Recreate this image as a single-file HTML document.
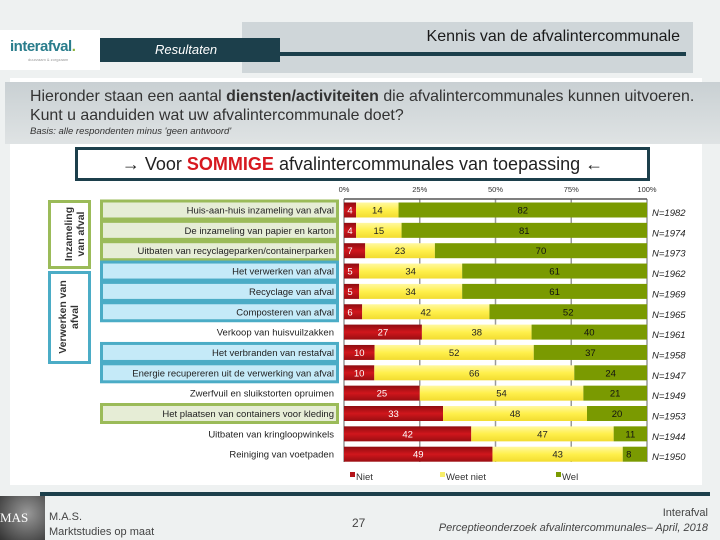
<!DOCTYPE html>
<html><head><meta charset="utf-8"><style>
body{margin:0;width:720px;height:540px;overflow:hidden;background:#eef1f1;font-family:"Liberation Sans",sans-serif;position:relative}
.abs{position:absolute}
</style></head><body>
<div class="abs" style="left:0;top:30px;width:100px;height:40px;background:#fff">
 <div style="position:absolute;left:10px;top:8px;font-size:15px;color:#2a7d8c;font-weight:bold;letter-spacing:-0.5px">interafval<span style="color:#8cb43c">.</span></div>
 <div style="position:absolute;left:28px;top:27px;font-size:4px;color:#999">duurzaam &amp; zorgzaam</div>
</div>
<div class="abs" style="left:242px;top:22px;width:451px;height:51px;background:#cfd6d9"></div>
<div class="abs" style="left:380px;top:28px;width:300px;text-align:right;font-size:16px;color:#1a1a1a">Kennis van de afvalintercommunale</div>
<div class="abs" style="left:280px;top:52px;width:406px;height:4px;background:#1c3f4b"></div>
<div class="abs" style="left:100px;top:38px;width:180px;height:24px;background:#1c3f4b;color:#fff;font-size:13px;font-style:italic;line-height:24px;text-indent:55px">Resultaten</div>
<div class="abs" style="left:10px;top:78px;width:692px;height:407px;background:#fff"></div>
<div class="abs" style="left:5px;top:82px;width:715px;height:62px;background:linear-gradient(#c9d0d3,#dfe3e4)"></div>
<div class="abs" style="left:30px;top:87px;font-size:15.9px;color:#333;line-height:19px">Hieronder staan een aantal <b>diensten/activiteiten</b> die afvalintercommunales kunnen uitvoeren.<br>Kunt u aanduiden wat uw afvalintercommunale doet?</div>
<div class="abs" style="left:30px;top:126px;font-size:9.5px;font-style:italic;color:#333">Basis: alle respondenten minus 'geen antwoord'</div>
<div class="abs" style="left:75px;top:147px;width:569px;height:28px;border:3px solid #1c3f4b;text-align:center;font-size:18px;line-height:28px;color:#222">→ Voor <b style="color:#d71920">SOMMIGE</b> afvalintercommunales van toepassing ←</div>

<svg class="abs" style="left:0;top:0" width="720" height="540">
 <rect x="49.5" y="201.5" width="40" height="66" fill="#fff" stroke="#9bbb59" stroke-width="3"/>
 <text transform="translate(72,234) rotate(-90)" text-anchor="middle" font-size="10.5" font-weight="bold" fill="#333" font-family="Liberation Sans">Inzameling</text>
 <text transform="translate(84,234) rotate(-90)" text-anchor="middle" font-size="10.5" font-weight="bold" fill="#333" font-family="Liberation Sans">van afval</text>
 <rect x="49.5" y="272.5" width="40" height="90" fill="#fff" stroke="#4bacc6" stroke-width="3"/>
 <text transform="translate(66,317) rotate(-90)" text-anchor="middle" font-size="10.5" font-weight="bold" fill="#333" font-family="Liberation Sans">Verwerken van</text>
 <text transform="translate(78,317) rotate(-90)" text-anchor="middle" font-size="10.5" font-weight="bold" fill="#333" font-family="Liberation Sans">afval</text>
 <g id="g"></g>
</svg>
<div class="abs" style="left:40px;top:492px;width:670px;height:4px;background:#1c3f4b"></div>
<div class="abs" style="left:0;top:496px;width:45px;height:44px;background:radial-gradient(circle at 60% 40%,#999,#333);color:#fff;font-family:'Liberation Serif',serif;font-size:13px;line-height:44px">MAS</div>
<div class="abs" style="left:49px;top:510px;font-size:11px;color:#444;line-height:15px">M.A.S.<br>Marktstudies op maat</div>
<div class="abs" style="left:352px;top:516px;font-size:12px;color:#444">27</div>
<div class="abs" style="right:12px;top:506px;font-size:11px;color:#444;line-height:15px;text-align:right">Interafval<br><i>Perceptieonderzoek afvalintercommunales– April, 2018</i></div>
<script>
const categories=["Huis-aan-huis inzameling van afval","De inzameling van papier en karton","Uitbaten van recyclageparken/containerparken","Het verwerken van afval","Recyclage van afval","Composteren van afval","Verkoop van huisvuilzakken","Het verbranden van restafval","Energie recupereren uit de verwerking van afval","Zwerfvuil en sluikstorten opruimen","Het plaatsen van containers voor kleding","Uitbaten van kringloopwinkels","Reiniging van voetpaden"];
const niet=[4,4,7,5,5,6,27,10,10,25,33,42,49];
const weetNiet=[14,15,23,34,34,42,38,52,66,54,48,47,43];
const wel=[82,81,70,61,61,52,40,37,24,21,20,11,8];
const nValues=[1982,1974,1973,1962,1969,1965,1961,1958,1947,1949,1953,1944,1950];
const boxType=["g","g","g","b","b","b","","b","b","","g","",""];
const ticks=["0%","25%","50%","75%","100%"];
const tickVals=[0,25,50,75,100];
const NS="http://www.w3.org/2000/svg";
const g=document.getElementById('g');
const X0=344,X1=647;
const xs=v=>X0+(X1-X0)*v/100;
const ys=i=>210+i*20.35;
function mk(t,a,p){const e=document.createElementNS(NS,t);for(const k in a)e.setAttribute(k,a[k]);(p||g).appendChild(e);return e;}
const defs=mk('defs',{});
defs.innerHTML='<linearGradient id="gr" x1="0" y1="0" x2="0" y2="1"><stop offset="0" stop-color="#8e0c10"/><stop offset="0.5" stop-color="#d0161c"/><stop offset="1" stop-color="#9a0e12"/></linearGradient><linearGradient id="gy" x1="0" y1="0" x2="0" y2="1"><stop offset="0" stop-color="#fff8a0"/><stop offset="0.5" stop-color="#fff04c"/><stop offset="1" stop-color="#f2dc30"/></linearGradient>';
categories.forEach((c,i)=>{
 const y=ys(i);
 if(boxType[i]){
  const r=mk('rect',{x:101.5,y:y-9,width:236,height:18,fill:boxType[i]=='g'?'#e6edd6':'#c5eaf8',stroke:boxType[i]=='g'?'#9bbb59':'#4bacc6','stroke-width':3});
  
  
 }
 const t=mk('text',{x:334,y:y+3.5,'text-anchor':'end','font-size':9.5,fill:'#222','font-family':'Liberation Sans'});
 t.textContent=c;
 
 
});
tickVals.forEach((v,k)=>{
 mk('line',{x1:xs(v),x2:xs(v),y1:199,y2:462,stroke:'#999','stroke-width':1.5});
 const t=mk('text',{x:xs(v),y:192,'text-anchor':'middle','font-size':7.5,fill:'#333','font-family':'Liberation Sans'});
 t.textContent=ticks[k];
 
 
});
mk('line',{x1:X0,x2:X1,y1:199,y2:199,stroke:'#555','stroke-width':1.5});
const series=[[niet,'url(#gr)','#fff'],[weetNiet,'url(#gy)','#222'],[wel,'#7a9a01','#111']];
categories.forEach((c,i)=>{
 let acc=0;const y=ys(i);
 const tot=niet[i]+weetNiet[i]+wel[i];
 series.forEach(([arr,fill,tc],s)=>{
  const v=arr[i]*100/tot;
  const r=mk('rect',{x:xs(acc),y:y-7.5,width:xs(acc+v)-xs(acc),height:15,fill:fill});
  
  
  const t=mk('text',{x:v<9?xs(acc)+6:(xs(acc)+xs(acc+v))/2,y:y+3.5,'text-anchor':'middle','font-size':9.5,fill:tc,'font-family':'Liberation Sans'});
  t.textContent=arr[i];
  
  
  acc+=v;
 });
 const n=mk('text',{x:652,y:y+6,'font-size':9.5,'font-style':'italic',fill:'#222','font-family':'Liberation Sans'});
 n.textContent='N='+nValues[i];
 
 
});
[['Niet','#b3141a',350],['Weet niet','#f7ee6a',440],['Wel','#7a9a01',556]].forEach(([l,c,x])=>{
 const r=mk('rect',{x:x,y:472,width:5,height:5,fill:c});
 
 
 const t=mk('text',{x:x+6,y:480,'font-size':9.5,fill:'#333','font-family':'Liberation Sans'});
 t.textContent=l;
 
 
});
</script>
</body></html>
